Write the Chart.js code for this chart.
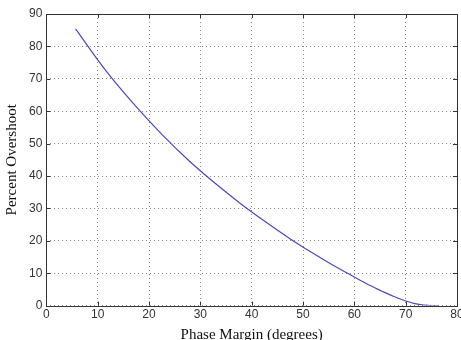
<!DOCTYPE html>
<html>
<head>
<meta charset="utf-8">
<script src="https://cdn.jsdelivr.net/npm/chart.js@4"></script>
<style>
  html, body { margin: 0; padding: 0; background: #fff; overflow: hidden; }
  #wrap { width: 461px; height: 340px; }
</style>
</head>
<body>
<div id="wrap"><canvas id="grafico"></canvas></div>
<script>
// valores
const phaseMargin = [5.7, 11.4, 17.1, 22.6, 28.0, 33.3, 38.3, 43.1, 47.6, 51.8, 55.7, 59.2, 62.3, 65.2, 67.7, 69.9, 71.8, 73.5, 75.0, 76.3];
const overshoot = [85.4, 72.9, 62.1, 52.7, 44.4, 37.2, 30.9, 25.4, 20.5, 16.3, 12.6, 9.5, 6.8, 4.6, 2.8, 1.5, 0.6, 0.15, 0.0, 0.0];
const xTicks = [0, 10, 20, 30, 40, 50, 60, 70, 80];
const yTicks = [0, 10, 20, 30, 40, 50, 60, 70, 80, 90];

const pontos = phaseMargin.map((pm, i) => ({ x: pm, y: overshoot[i] }));

// moldura e marcas internas estilo MATLAB
const moldura = {
  id: 'moldura',
  afterDraw(chart) {
    const { ctx, chartArea: a, scales } = chart;
    ctx.save();
    ctx.strokeStyle = '#333';
    ctx.lineWidth = 1;
    ctx.strokeRect(Math.round(a.left) + 0.5, Math.round(a.top) + 0.5,
      Math.round(a.right - a.left), Math.round(a.bottom - a.top));
    ctx.beginPath();
    xTicks.forEach(v => {
      const px = Math.round(scales.x.getPixelForValue(v)) + 0.5;
      ctx.moveTo(px, a.bottom); ctx.lineTo(px, a.bottom - 4);
      ctx.moveTo(px, a.top); ctx.lineTo(px, a.top + 4);
    });
    yTicks.forEach(v => {
      const py = Math.round(scales.y.getPixelForValue(v)) + 0.5;
      ctx.moveTo(a.left, py); ctx.lineTo(a.left + 4, py);
      ctx.moveTo(a.right, py); ctx.lineTo(a.right - 4, py);
    });
    ctx.stroke();
    ctx.restore();
  }
};

const ctx = document.getElementById('grafico').getContext('2d');

new Chart(ctx, {
  type: 'scatter',
  data: {
    datasets: [{
      label: 'Percent Overshoot',
      data: pontos,
      showLine: true,
      borderColor: '#4b4bb0',
      borderWidth: 1.2,
      pointRadius: 0,
      cubicInterpolationMode: 'monotone',
      fill: false
    }]
  },
  options: {
    responsive: true,
    maintainAspectRatio: false,
    animation: false,
    layout: { padding: { left: 3, right: 4, top: 14, bottom: -4 } },
    plugins: {
      legend: { display: false },
      tooltip: { enabled: false }
    },
    scales: {
      x: {
        type: 'linear',
        min: 0,
        max: 80,
        afterBuildTicks: s => { s.ticks = xTicks.map(v => ({ value: v })); },
        afterFit: s => { s.paddingRight = 0; },
        ticks: {
          color: '#333',
          font: { family: 'Liberation Sans', size: 12 },
          padding: 2,
          maxRotation: 0
        },
        grid: { color: '#888', lineWidth: 1, drawTicks: false },
        border: { display: false, dash: [1, 3] },
        title: {
          display: true,
          text: 'Phase Margin (degrees)',
          color: '#111',
          font: { family: 'Liberation Serif', size: 15 },
          padding: { top: 2, bottom: 0 }
        }
      },
      y: {
        type: 'linear',
        min: 0,
        max: 90,
        afterBuildTicks: s => { s.ticks = yTicks.map(v => ({ value: v })); },
        ticks: {
          color: '#333',
          font: { family: 'Liberation Sans', size: 12 },
          padding: 4
        },
        grid: { color: '#888', lineWidth: 1, drawTicks: false },
        border: { display: false, dash: [1, 3] },
        title: {
          display: true,
          text: 'Percent Overshoot',
          color: '#111',
          font: { family: 'Liberation Serif', size: 15 },
          padding: { top: 0, bottom: 4 }
        }
      }
    }
  },
  plugins: [moldura]
});
</script>
</body>
</html>
